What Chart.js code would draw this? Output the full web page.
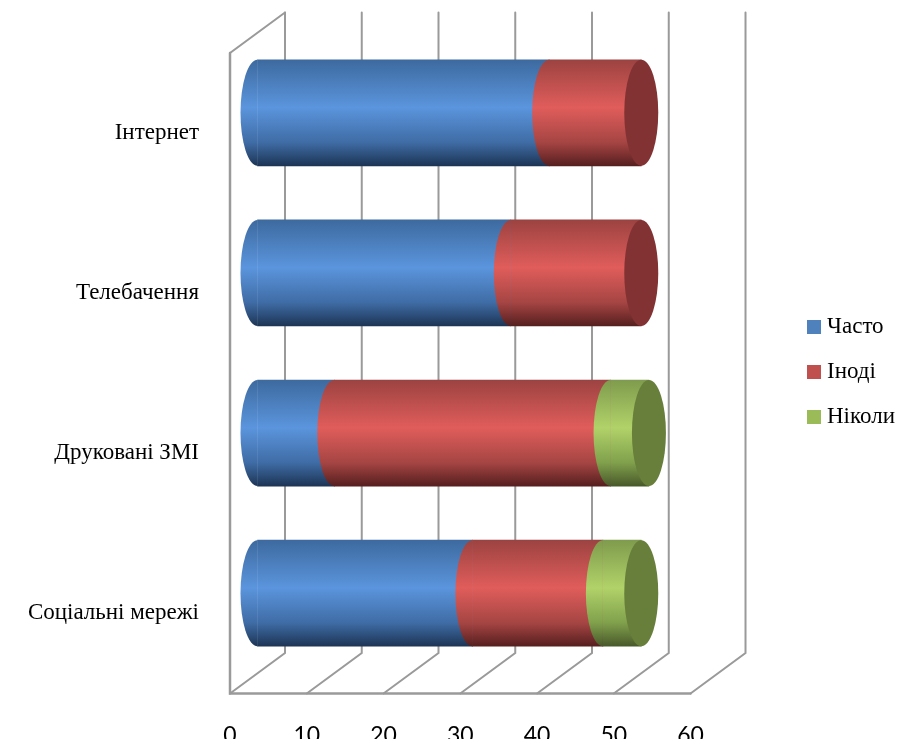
<!DOCTYPE html>
<html><head><meta charset="utf-8">
<style>html,body{margin:0;padding:0;background:#fff}canvas{display:block}</style>
<script src="https://cdn.jsdelivr.net/npm/chart.js@4"></script>
</head><body><div style="width:905px;height:739px"><canvas id="c"></canvas></div>
<script>
const categories = ['Інтернет', 'Телебачення', 'Друковані ЗМІ', 'Соціальні мережі'];
const seriesNames = ['Часто', 'Іноді', 'Ніколи'];
const chasto = [38, 33, 10, 28];
const inodi = [12, 17, 36, 17];
const nikoly = [0, 0, 5, 5];
const tickStep = 10, axisMax = 60;
const legendColors = ['#4f81bd', '#c0504d', '#9bbb59'];
const capColors = ['#2f5a8f', '#823233', '#677f3a'];
const ramps = [
  ['#3d6a9f', '#5b95dd', '#3f6ca5', '#1d3555'],
  ['#9c4341', '#e05d5b', '#a54543', '#561f1f'],
  ['#7f9b4d', '#b1d269', '#80a04c', '#49592a']
];
const depthX = 55, depthY = -40.5, rx = 17, ry = 53;
const gridColor = '#9a9a9a';

function barFill(i) {
  return function (ctx) {
    const y = ctx.chart.scales.y.getPixelForValue(ctx.dataIndex);
    const g = ctx.chart.ctx.createLinearGradient(0, y - ry, 0, y + ry);
    const r = ramps[i];
    g.addColorStop(0, r[0]); g.addColorStop(0.45, r[1]); g.addColorStop(0.78, r[2]); g.addColorStop(1, r[3]);
    return g;
  };
}
const cylinder3d = {
  id: 'cylinder3d',
  beforeDatasetsDraw(chart) {
    const { ctx, chartArea: a, scales: { x } } = chart;
    ctx.save();
    ctx.strokeStyle = gridColor; ctx.lineCap = 'round';
    x.ticks.forEach(t => {
      const px = x.getPixelForValue(t.value);
      ctx.lineWidth = 2;
      ctx.beginPath();
      ctx.moveTo(px + depthX, a.top + depthY); ctx.lineTo(px + depthX, a.bottom + depthY);
      ctx.lineTo(px, a.bottom);
      ctx.stroke();
    });
    const p0 = x.getPixelForValue(0), pM = x.getPixelForValue(axisMax);
    ctx.beginPath();
    ctx.moveTo(p0 + depthX, a.top + depthY); ctx.lineTo(p0, a.top); ctx.lineTo(p0, a.bottom);
    ctx.stroke();
    ctx.lineWidth = 2.5;
    ctx.beginPath();
    ctx.moveTo(p0, a.top); ctx.lineTo(p0, a.bottom); ctx.lineTo(pM, a.bottom);
    ctx.stroke();
    ctx.restore();
  },
  beforeDatasetDraw() { return false; },
  afterDatasetsDraw(chart) {
    const ctx = chart.ctx;
    ctx.save();
    ctx.translate(depthX / 2, depthY / 2);
    const n = chart.data.datasets.length;
    for (let d = 0; d < n; d++) {
      chart.getDatasetMeta(d).data.forEach((el, idx) => {
        if (!chart.data.datasets[d].data[idx]) return;
        el.draw(ctx);
        ctx.fillStyle = el.options.backgroundColor;
        ctx.beginPath();
        ctx.ellipse(el.base, el.y, rx, ry, 0, Math.PI / 2, Math.PI * 1.5);
        ctx.fill();
      });
    }
    categories.forEach((_, idx) => {
      let last = n - 1;
      while (last > 0 && !chart.data.datasets[last].data[idx]) last--;
      const el = chart.getDatasetMeta(last).data[idx];
      ctx.fillStyle = capColors[last];
      ctx.beginPath();
      ctx.ellipse(el.x, el.y, rx, ry, 0, 0, Math.PI * 2);
      ctx.fill();
    });
    ctx.restore();
  }
};
const spacerAxis = { display: true, grid: { display: false }, border: { display: false }, ticks: { display: false } };

new Chart(document.getElementById('c'), {
  type: 'bar',
  plugins: [cylinder3d],
  data: {
    labels: categories,
    datasets: [chasto, inodi, nikoly].map((v, i) => ({
      label: seriesNames[i], data: v, backgroundColor: barFill(i), borderWidth: 0,
      barThickness: ry * 2, clip: false
    }))
  },
  options: {
    indexAxis: 'y', responsive: true, maintainAspectRatio: false, animation: false,
    layout: { padding: { top: 5, right: 0, bottom: 0, left: 0 } },
    events: [],
    scales: {
      x: { stacked: true, min: 0, max: axisMax, position: 'bottom',
        grid: { display: false }, border: { display: false },
        ticks: { stepSize: tickStep, color: '#000', padding: 20, maxRotation: 0, font: { family: 'Lato', size: 23 } },
        afterFit(s) { s.height = 45.5; } },
      y: { stacked: true, position: 'left',
        grid: { display: false }, border: { display: false },
        ticks: { color: '#000', padding: 23, font: { family: 'Liberation Serif', size: 23 } },
        afterFit(s) { s.width = 230; } },
      topGap: Object.assign({ axis: 'x', position: 'top', afterFit(s) { s.height = 48; } }, spacerAxis),
      rightGap: Object.assign({ axis: 'y', position: 'right', afterFit(s) { s.width = 100; } }, spacerAxis)
    },
    plugins: {
      tooltip: { enabled: false }, title: { display: false },
      legend: { position: 'right',
        labels: { usePointStyle: true, pointStyle: 'rect', boxWidth: 3, boxHeight: 14, padding: 22, color: '#000',
          font: { family: 'Liberation Serif', size: 23 },
          generateLabels: c => c.data.datasets.map((d, i) => ({
            text: d.label, fillStyle: legendColors[i], strokeStyle: legendColors[i], lineWidth: 0, pointStyle: 'rect', datasetIndex: i
          })) } }
    }
  }
});
</script></body></html>
